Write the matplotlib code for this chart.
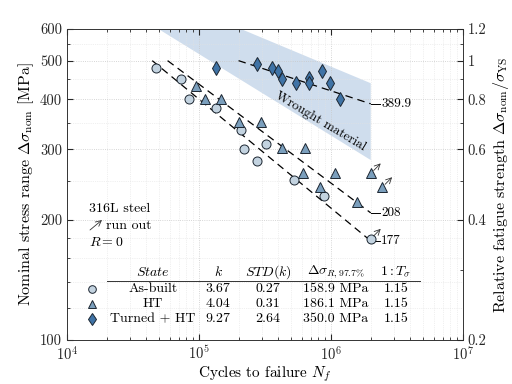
import numpy as np
import matplotlib
matplotlib.use('Agg')
import matplotlib.pyplot as plt
from matplotlib.patches import Polygon
from matplotlib.lines import Line2D

plt.rcParams['font.family'] = 'serif'
plt.rcParams['font.serif'] = ['cmr10', 'DejaVu Serif']
plt.rcParams['mathtext.fontset'] = 'cm'
plt.rcParams['axes.unicode_minus'] = False
plt.rcParams['axes.formatter.use_mathtext'] = True

# ---- data ----
# As-built
ab_N = [4.7e4, 7.35e4, 8.4e4, 1.35e5, 2.08e5, 2.19e5, 2.74e5, 3.21e5, 5.2e5, 8.9e5]
ab_S = [480, 450, 400, 380, 335, 300, 280, 309, 251, 229]
ab_run_N = [2.0e6]
ab_run_S = [179]
# HT
ht_N = [9.5e4, 1.11e5, 1.47e5, 2.01e5, 2.94e5, 4.23e5, 6.3e5, 6.1e5, 1.08e6, 8.2e5, 1.58e6]
ht_S = [431, 400, 400, 351, 351, 302, 302, 261, 261, 241, 221]
ht_run_N = [2.0e6, 2.44e6]
ht_run_S = [261, 241]
# Turned + HT
tu_N = [1.35e5, 2.74e5, 3.56e5, 3.95e5, 4.23e5, 5.4e5, 6.76e5, 6.76e5, 8.6e5, 9.9e5, 1.16e6]
tu_S = [479, 490, 479, 470, 449, 439, 452, 439, 470, 439, 400]

# fitted curves: slope k and stress at 2e6 cycles
states = ['As-built', 'HT', 'Turned + HT']
k_vals = [3.67, 4.04, 9.27]
std_k = [0.27, 0.31, 2.64]
s_R977 = [158.9, 186.1, 350.0]
t_sig = [1.15, 1.15, 1.15]
s_2e6 = [177, 208, 389.9]
s_2e6_lbl = ['177', '208', '389.9']
N_ref = 2e6
S_start = 500

# wrought material scatter band (N, S corners)
band_N = [4.93e4, 2.0e6, 2.0e6, 2.08e5]
band_S = [600, 282, 439, 600]

sigma_ys = 500.0

c_ab = '#c3d3e0'
c_ht = '#7b9fbd'
c_tu = '#3f73a6'
c_edge = '#1c2631'

fig = plt.figure(figsize=(5.12, 3.84), dpi=100)
ax = fig.add_axes([67/512, 44/384, 396/512, 311/384])

ax.set_xscale('log')
ax.set_yscale('log')
ax.set_xlim(1e4, 1e7)
ax.set_ylim(100, 600)

# band
ax.add_patch(Polygon(list(zip(band_N, band_S)), closed=True, facecolor='#cfdded',
                     edgecolor='none', zorder=1))
ax.text(8.3e5, 352, 'Wrought material', rotation=-31, ha='center', va='center',
        fontsize=9.5, zorder=2)

# fitted lines
for k, s2 in zip(k_vals, s_2e6):
    n0 = N_ref * (s2 / S_start) ** k
    nn = np.logspace(np.log10(n0), np.log10(N_ref), 50)
    ss = s2 * (nn / N_ref) ** (-1.0 / k)
    ax.plot(nn, ss, color='black', lw=0.9, ls=(0, (6, 4)), zorder=3)

for s2, lbl in zip(s_2e6, s_2e6_lbl):
    ax.plot([N_ref, N_ref * 1.17], [s2, s2], color='black', lw=0.7, zorder=3)
    ax.text(N_ref * 1.2, s2, lbl, ha='left', va='center', fontsize=9.5)

# points
mk = dict(markeredgecolor=c_edge, markeredgewidth=0.7, ls='none', zorder=4)
ax.plot(ab_N, ab_S, 'o', markerfacecolor=c_ab, markersize=6.5, **mk)
ax.plot(ab_run_N, ab_run_S, 'o', markerfacecolor=c_ab, markersize=6.5, **mk)
ax.plot(ht_N, ht_S, '^', markerfacecolor=c_ht, markersize=7, **mk)
ax.plot(ht_run_N, ht_run_S, '^', markerfacecolor=c_ht, markersize=7, **mk)
ax.plot(tu_N, tu_S, 'd', markerfacecolor=c_tu, markersize=7, **mk)

# run-out arrows
for n, s in zip(ab_run_N + ht_run_N, ab_run_S + ht_run_S):
    ax.annotate('', xy=(n * 1.19, s * 1.06), xytext=(n, s),
                arrowprops=dict(arrowstyle='->', lw=0.6, color='#333333',
                                shrinkA=3, shrinkB=0), zorder=5)

# axes formatting
ax.set_yticks([100, 200, 300, 400, 500, 600])
ax.set_yticklabels(['100', '200', '300', '400', '500', '600'])
ax.set_yticks([120, 140, 160, 180, 250, 350, 450, 550], minor=True)
ax.yaxis.set_minor_formatter(matplotlib.ticker.NullFormatter())
ax.set_xticks([1e4, 1e5, 1e6, 1e7])
ax.set_xticklabels([r'$10^4$', r'$10^5$', r'$10^6$', r'$10^7$'])
ax.tick_params(which='both', direction='in', top=True, labelsize=10.5, colors='#262626')
ax.tick_params(which='major', length=4)
ax.tick_params(which='minor', length=2)
ax.grid(True, which='major', ls=':', color='#c8c8c8', lw=0.6)
ax.grid(True, which='minor', ls=':', color='#e2e2e2', lw=0.5)
for sp in ax.spines.values():
    sp.set_color('#333333')
    sp.set_linewidth(0.7)

ax.set_xlabel(r'Cycles to failure $N_f$', fontsize=11, labelpad=1)
ax.set_ylabel(r'Nominal stress range $\Delta\sigma_\mathrm{nom}$ [MPa]', fontsize=11.5, labelpad=3)

ax2 = ax.twinx()
ax2.set_yscale('log')
ax2.set_ylim(100 / sigma_ys, 600 / sigma_ys)
ax2.set_yticks([0.2, 0.4, 0.6, 0.8, 1.0, 1.2])
ax2.set_yticklabels(['0.2', '0.4', '0.6', '0.8', '1', '1.2'])
ax2.set_yticks([0.3, 0.5, 0.7, 0.9, 1.1], minor=True)
ax2.yaxis.set_minor_formatter(matplotlib.ticker.NullFormatter())
ax2.tick_params(which='both', direction='in', labelsize=10.5, colors='#262626')
ax2.tick_params(which='major', length=4)
ax2.tick_params(which='minor', length=2)
ax2.set_ylabel(r'Relative fatigue strength $\Delta\sigma_\mathrm{nom}/\sigma_\mathrm{YS}$',
               fontsize=11.5, labelpad=3)
for sp in ax2.spines.values():
    sp.set_visible(False)


def px(x, y):
    # pixel position in the picture -> axes fraction
    return (x - 67) / 396.0, (340 - y) / 311.0


# annotation block
ax.text(*px(89, 209), '316L steel', transform=ax.transAxes, ha='left', va='center', fontsize=10)
ax.annotate('', xy=px(102, 220), xytext=px(90, 230), xycoords='axes fraction',
            textcoords='axes fraction',
            arrowprops=dict(arrowstyle='->', lw=0.6, color='#333333', shrinkA=0, shrinkB=0))
ax.text(*px(106, 226), 'run out', transform=ax.transAxes, ha='left', va='center', fontsize=10)
ax.text(*px(89, 243), r'$R = 0$', transform=ax.transAxes, ha='left', va='center', fontsize=10)

# table
col_x = [153, 218, 268, 336, 396]
heads = [r'$State$', r'$k$', r'$STD(k)$', r'$\Delta\sigma_{R,97.7\%}$', r'$1:T_\sigma$']
for cx, h in zip(col_x, heads):
    ax.text(*px(cx, 272), h, transform=ax.transAxes, ha='center', va='center', fontsize=10)
ax.plot([px(107, 0)[0], px(420, 0)[0]], [px(0, 281)[1]] * 2, transform=ax.transAxes,
        color='#333333', lw=0.7, clip_on=False)
row_y = [289, 304, 319]
mk_leg = [('o', c_ab, 5.5), ('^', c_ht, 6), ('d', c_tu, 6.5)]
for i in range(3):
    y = row_y[i]
    cells = [states[i], '%.2f' % k_vals[i], '%.2f' % std_k[i], '%.1f MPa' % s_R977[i],
             '%.2f' % t_sig[i]]
    for cx, c in zip(col_x, cells):
        ax.text(*px(cx, y), c, transform=ax.transAxes, ha='center', va='center', fontsize=10)
    m, fc, ms = mk_leg[i]
    ax.add_line(Line2D([px(92, y)[0]], [px(92, y)[1]], marker=m, markerfacecolor=fc,
                       markeredgecolor=c_edge, markeredgewidth=0.7, markersize=ms,
                       transform=ax.transAxes, ls='none'))

fig.savefig('out.png', dpi=100)
